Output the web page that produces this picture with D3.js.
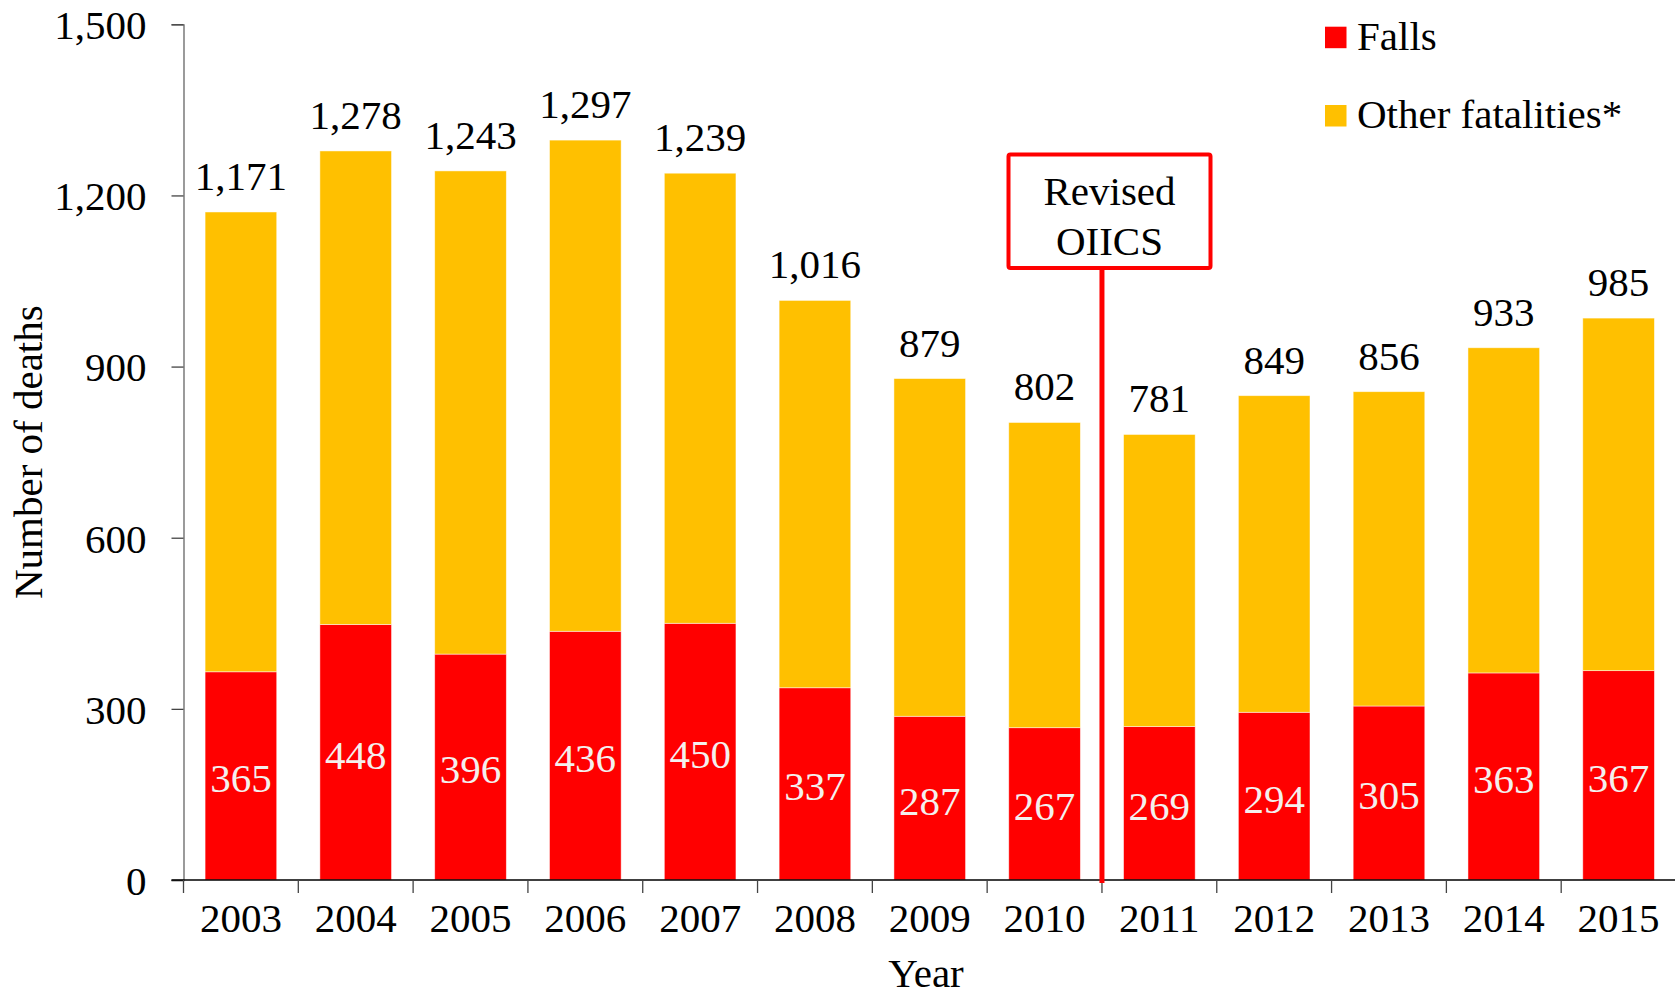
<!DOCTYPE html>
<html>
<head>
<meta charset="utf-8">
<script src="https://cdn.jsdelivr.net/npm/d3@7"></script>
<style>
  html, body { margin: 0; padding: 0; background: #fff; }
  svg { display: block; }
  svg text { font-family: "Liberation Serif", "Times New Roman", serif !important; }
</style>
</head>
<body>
<svg id="chart" width="1675" height="996"></svg>
<script>
// Work-related deaths by year: falls vs. all other fatalities
const years = ["2003","2004","2005","2006","2007","2008","2009","2010","2011","2012","2013","2014","2015"];
const falls = [365, 448, 396, 436, 450, 337, 287, 267, 269, 294, 305, 363, 367];
const totals = [1171, 1278, 1243, 1297, 1239, 1016, 879, 802, 781, 849, 856, 933, 985];
const yTicks = [0, 300, 600, 900, 1200, 1500];
const seriesNames = ["Falls", "Other fatalities*"];
const seriesColors = ["#FF0000", "#FFC000"];
const revisionLabel = ["Revised", "OIICS"];
const revisionAfter = "2010";

const others = totals.map((t, i) => t - falls[i]);
const rows = years.map((yr, i) => ({ year: yr, falls: falls[i], other: others[i], total: totals[i] }));

const FONT = "Liberation Serif, Times New Roman, serif";
const svg = d3.select("#chart").attr("font-family", FONT);
const FS = 41;
const plotLeft = 183.5, plotRight = 1676, plotTop = 24.3, plotBottom = 880;

const x = d3.scaleBand().domain(years).range([plotLeft, plotRight]).paddingInner(0.376).paddingOuter(0.188);
const y = d3.scaleLinear().domain([0, 1500]).range([plotBottom, plotTop]);

const stacked = d3.stack().keys(["falls", "other"])(rows);

// stacked bars
svg.append("g").selectAll("g").data(stacked).join("g")
  .attr("fill", (d, i) => seriesColors[i])
  .selectAll("rect").data(d => d).join("rect")
  .attr("x", d => x(d.data.year))
  .attr("width", x.bandwidth())
  .attr("y", d => y(d[1]))
  .attr("height", d => y(d[0]) - y(d[1]))
  .attr("stroke", "#fff").attr("stroke-width", 0.8).attr("stroke-opacity", 0.6);

// y axis
const yAxis = svg.append("g").attr("transform", `translate(${plotLeft},0)`)
  .call(d3.axisLeft(y).tickValues(yTicks).tickSize(12).tickPadding(25).tickFormat(d3.format(",")))
  .attr("font-family", FONT);
yAxis.select(".domain").attr("stroke", "#666").attr("stroke-width", 1.3);
yAxis.selectAll(".tick line").attr("stroke", "#444").attr("stroke-width", 1.3);
yAxis.selectAll(".tick text").attr("font-size", FS).attr("fill", "#000").attr("dy", "0.35em");

// x axis: ticks sit on category boundaries
const xg = svg.append("g");
xg.append("line").attr("x1", plotLeft - 12).attr("x2", plotRight).attr("y1", plotBottom).attr("y2", plotBottom)
  .attr("stroke", "#000").attr("stroke-width", 1.3);
const boundaryX = years.map((yr, i) => plotLeft + i * x.step());
xg.selectAll("line.tick").data(boundaryX).join("line").attr("class", "tick")
  .attr("x1", d => d).attr("x2", d => d).attr("y1", plotBottom).attr("y2", plotBottom + 13)
  .attr("stroke", "#444").attr("stroke-width", 1.3);
xg.selectAll("text").data(years).join("text")
  .attr("x", d => x(d) + x.bandwidth() / 2).attr("y", 931.5)
  .attr("text-anchor", "middle").attr("font-size", FS).text(d => d);

// total labels above bars
svg.append("g").selectAll("text").data(rows).join("text")
  .attr("x", d => x(d.year) + x.bandwidth() / 2)
  .attr("y", d => y(d.total) - 22)
  .attr("text-anchor", "middle").attr("font-size", FS).attr("fill", "#000")
  .text(d => d3.format(",")(d.total));

// falls labels inside red segments
svg.append("g").selectAll("text").data(rows).join("text")
  .attr("x", d => x(d.year) + x.bandwidth() / 2)
  .attr("y", d => (y(0) + y(d.falls)) / 2 + 7)
  .attr("text-anchor", "middle").attr("dominant-baseline", "middle")
  .attr("font-size", FS).attr("fill", "#f4f0ee")
  .text(d => d.falls);

// axis titles
svg.append("text").attr("transform", `translate(42,${(plotTop + plotBottom) / 2}) rotate(-90)`)
  .attr("text-anchor", "middle").attr("font-size", FS).text("Number of deaths");
svg.append("text").attr("x", 926).attr("y", 987)
  .attr("text-anchor", "middle").attr("font-size", FS).text("Year");

// legend
const lg = svg.append("g");
const legendY = [26.7, 105];
seriesNames.forEach((name, i) => {
  lg.append("rect").attr("x", 1325).attr("y", legendY[i]).attr("width", 21.5).attr("height", 21.5)
    .attr("fill", seriesColors[i]);
  lg.append("text").attr("x", 1357).attr("y", legendY[i] + 23).attr("font-size", FS).text(name);
});

// classification revision marker between 2010 and 2011
const idx = years.indexOf(revisionAfter) + 1;
const rx = plotLeft + idx * x.step();
svg.append("line").attr("x1", rx).attr("x2", rx).attr("y1", 268).attr("y2", 883)
  .attr("stroke", "#FF0000").attr("stroke-width", 5);
svg.append("rect").attr("x", 1008.5).attr("y", 154.5).attr("width", 202).attr("height", 113.5)
  .attr("rx", 2).attr("fill", "#fff").attr("stroke", "#FF0000").attr("stroke-width", 4);
revisionLabel.forEach((t, i) => {
  svg.append("text").attr("x", 1109.5).attr("y", 205 + i * 50)
    .attr("text-anchor", "middle").attr("font-size", FS).text(t);
});
</script>
</body>
</html>
